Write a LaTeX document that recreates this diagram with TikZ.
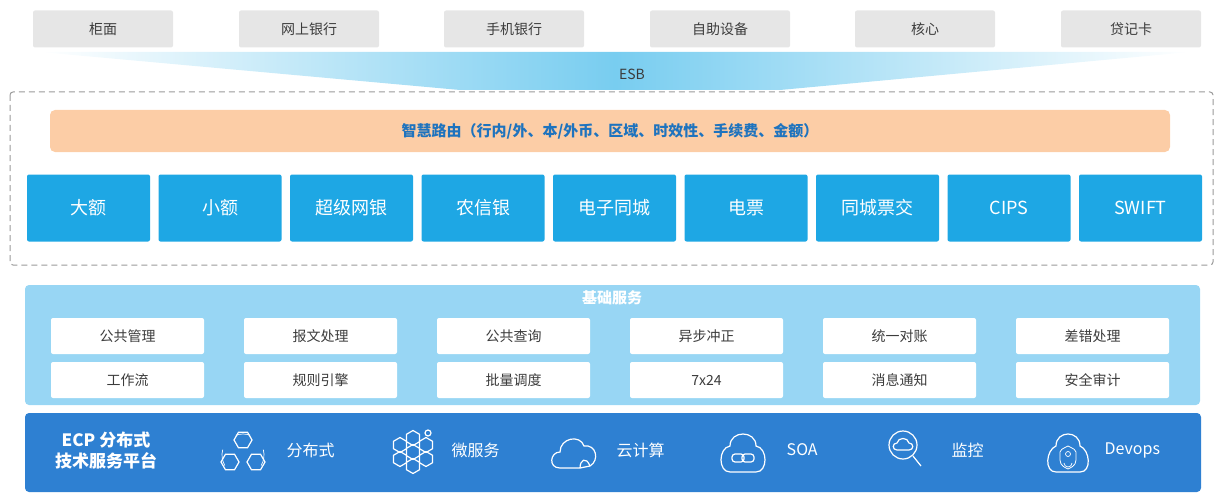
\documentclass[tikz,border=0pt]{standalone}
\usepackage{fontspec}
\setmainfont{Noto Sans CJK SC}
\definecolor{chanbox}{RGB}{230,230,230}
\definecolor{chantext}{RGB}{60,60,60}
\definecolor{routefill}{RGB}{252,205,166}
\definecolor{routetext}{RGB}{30,115,190}
\definecolor{sysfill}{RGB}{30,167,228}
\definecolor{basefill}{RGB}{152,214,244}
\definecolor{platfill}{RGB}{46,128,210}
\definecolor{esbfan}{RGB}{120,205,240}
\tikzset{every picture/.style={line width=0.75pt}}
\tikzset{
  chan/.style={fill=chanbox,rounded corners=2pt,minimum width=140pt,minimum height=37pt,text=chantext,font=\fontsize{14}{14}\selectfont},
  sys/.style={fill=sysfill,rounded corners=2pt,minimum width=123pt,minimum height=67pt,text=white,font=\fontsize{18}{18}\selectfont},
  svc/.style={fill=white,rounded corners=2pt,minimum width=153pt,minimum height=36pt,text=chantext,font=\fontsize{14}{14}\selectfont},
  plat/.style={text=white,font=\fontsize{16}{16}\selectfont,anchor=west},
  icon/.style={draw=white,line width=1.2pt}
}
\begin{document}
\begin{tikzpicture}[x=1pt,y=1pt,yscale=-1]
	\useasboundingbox (0,0) rectangle (1223,500);
	
	%channels
	\foreach \cx/\txt [count=\i] in {103/柜面,309/网上银行,514/手机银行,720/自助设备,925/核心,1131/贷记卡}
	  \node[chan] (ch\i) at (\cx,29) {\txt};
	
	%ESB fan
	\shade[left color=white,right color=white,middle color=esbfan] (40,52) -- (1190,52) -- (780,90) -- (460,90) -- cycle;
	\node[text=chantext,font=\fontsize{14}{14}\selectfont] (esb) at (632,74) {ESB};
	
	%dashed frame
	\draw[gray!80,dash pattern=on 6pt off 4pt,rounded corners=3pt,line width=1pt] (10,92) rectangle (1213,265);
	\node[fill=routefill,rounded corners=5pt,minimum width=1120pt,minimum height=42pt,text=routetext,font=\fontsize{15}{15}\selectfont\bfseries] (route) at (610,131) {智慧路由（行内/外、本/外币、区域、时效性、手续费、金额）};
	\foreach \txt [count=\i] in {大额,小额,超级网银,农信银,电子同城,电票,同城票交,CIPS,SWIFT}
	  \node[sys] (sys\i) at ({88.5+131.5*(\i-1)},208) {\txt};
	
	%base services
	\fill[basefill,rounded corners=4pt] (25,285) rectangle (1200,405);
	\node[text=white,font=\fontsize{15}{15}\selectfont\bfseries] (basetitle) at (612,298) {基础服务};
	\foreach \txt [count=\i] in {公共管理,报文处理,公共查询,异步冲正,统一对账,差错处理}
	  \node[svc] (svcA\i) at ({127.5+193*(\i-1)},336) {\txt};
	\foreach \txt [count=\i] in {工作流,规则引擎,批量调度,7x24,消息通知,安全审计}
	  \node[svc] (svcB\i) at ({127.5+193*(\i-1)},380) {\txt};
	
	%platform
	\fill[platfill,rounded corners=4pt] (25,413) rectangle (1201,492);
	\node[text=white,font=\fontsize{17}{21}\selectfont\bfseries,align=center] (ecp) at (106,451) {ECP 分布式\\技术服务平台};
	\node[plat] (p1) at (283,450) {分布式};
	\node[plat] (p2) at (448,450) {微服务};
	\node[plat] (p3) at (613,450) {云计算};
	\node[plat] (p4) at (783,450) {SOA};
	\node[plat] (p5) at (948,450) {监控};
	\node[plat] (p6) at (1101,450) {Devops};
	
	%icons
	\foreach \hx/\hy in {243/440,230/462,256/462}
	  \draw[icon] (\hx,\hy) ++(0:9) -- ++(120:9) -- ++(180:9) -- ++(240:9) -- ++(300:9) -- ++(0:9) -- cycle;
	\draw[icon,line width=0.7pt] (243,455) ++(150:21) arc (150:195:21) (243,455) ++(30:21) arc (30:-15:21) (243,455) ++(250:21) arc (250:290:21);
	\foreach \hx/\hy in {400/445,413/438,413/452,426/445,400/459,426/459,413/466}
	  \draw[icon] (\hx,\hy) ++(30:7.5) -- ++(150:7.5) -- ++(210:7.5) -- ++(270:7.5) -- ++(330:7.5) -- ++(30:7.5) -- cycle;
	\draw[icon] (428,433) circle (3);
	\draw[icon] (560,468) .. controls (548,468) and (550,452) .. (560,452) .. controls (560,438) and (580,434) .. (584,446) .. controls (596,444) and (600,460) .. (590,466) -- (580,468) -- cycle;
	\draw[icon] (580,468) .. controls (580,460) and (586,456) .. (590,466);
	\draw[icon] (730,472) .. controls (718,472) and (718,448) .. (730,446) .. controls (730,430) and (756,430) .. (756,446) .. controls (768,448) and (768,472) .. (756,472) -- cycle;
	\draw[icon,rounded corners=3pt] (732,454) rectangle (744,462) (742,454) rectangle (754,462);
	\draw[icon] (903,445) circle (14);
	\draw[icon] (913,456) -- (921,466);
	\draw[icon] (897,450) .. controls (892,450) and (892,443) .. (897,443) .. controls (898,437) and (908,437) .. (909,443) .. controls (914,443) and (914,450) .. (909,450) -- cycle;
	\draw[icon] (1056,472) .. controls (1044,472) and (1046,450) .. (1056,446) .. controls (1056,430) and (1080,430) .. (1080,446) .. controls (1090,450) and (1092,472) .. (1080,472) -- cycle;
	\draw[icon,line width=0.8pt] (1068,446) .. controls (1062,449) and (1060,450) .. (1060,452) -- (1060,460) .. controls (1060,466) and (1066,468) .. (1068,469) .. controls (1070,468) and (1076,466) .. (1076,460) -- (1076,452) .. controls (1076,450) and (1074,449) .. (1068,446) -- cycle;
	\draw[icon,line width=0.7pt] (1068,454) circle (2.5) (1064,463) arc (180:0:4);
	
\end{tikzpicture}
\end{document}
